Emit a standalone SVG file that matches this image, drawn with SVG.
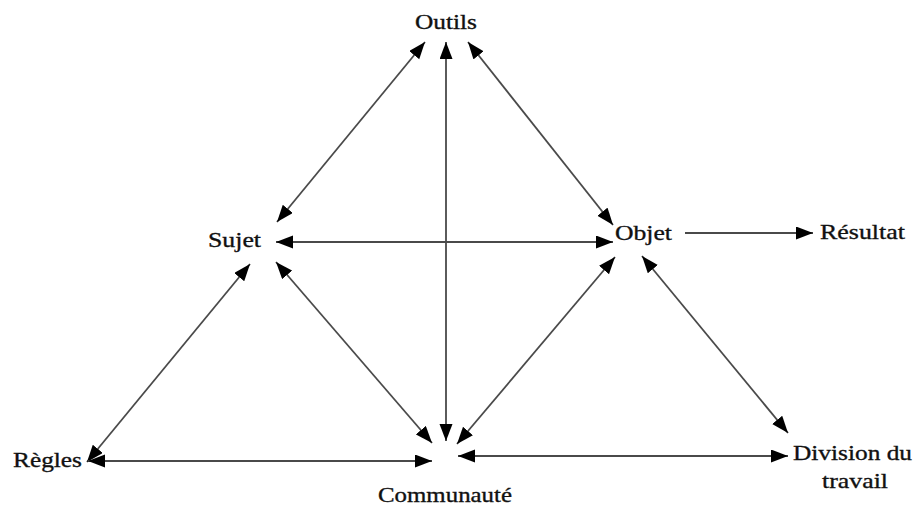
<svg xmlns="http://www.w3.org/2000/svg" width="918" height="508" viewBox="0 0 918 508">
<style>
text{font-family:"Liberation Serif","Times New Roman",serif;font-size:22px;fill:#111;stroke:#111;stroke-width:0.35}
.c line{stroke:#4a4a4a;stroke-width:1.8;fill:none}
.b{marker-start:url(#ah);marker-end:url(#ah)}
.e{marker-end:url(#ah)}
</style>
<defs>
<marker id="ah" markerUnits="userSpaceOnUse" markerWidth="18" markerHeight="14" refX="17" refY="6.5" orient="auto-start-reverse">
<path d="M0,0 L17,6.5 L0,13 z" fill="#000"/>
</marker>
</defs>
<rect width="918" height="508" fill="#fff"/>
<g id="connectors" class="c">
<line class="b" x1="425" y1="42" x2="277" y2="222"/>
<line class="b" x1="468" y1="42" x2="613" y2="225"/>
<line class="b" x1="446" y1="42" x2="446" y2="441"/>
<line class="b" x1="276" y1="242" x2="613" y2="242"/>
<line class="e" x1="685" y1="233" x2="813" y2="233"/>
<line class="b" x1="250" y1="264" x2="87" y2="462"/>
<line class="b" x1="276" y1="262" x2="432" y2="443"/>
<line class="b" x1="615" y1="257" x2="457" y2="444"/>
<line class="b" x1="642" y1="256" x2="788" y2="433"/>
<line class="b" x1="88" y1="461" x2="432" y2="461"/>
<line class="b" x1="458" y1="456" x2="788" y2="456"/>
</g>
<g id="outils"><text x="415" y="29" textLength="62" lengthAdjust="spacingAndGlyphs">Outils</text></g>
<g id="sujet"><text x="208" y="247" textLength="53" lengthAdjust="spacingAndGlyphs">Sujet</text></g>
<g id="objet"><text x="615" y="240" textLength="57" lengthAdjust="spacingAndGlyphs">Objet</text></g>
<g id="resultat"><text x="820" y="239" textLength="85" lengthAdjust="spacingAndGlyphs">Résultat</text></g>
<g id="regles"><text x="13" y="467" textLength="69" lengthAdjust="spacingAndGlyphs">Règles</text></g>
<g id="communaute"><text x="378" y="502" textLength="134" lengthAdjust="spacingAndGlyphs">Communauté</text></g>
<g id="division"><text x="793" y="460" textLength="119" lengthAdjust="spacingAndGlyphs">Division du</text><text x="822" y="488" textLength="66" lengthAdjust="spacingAndGlyphs">travail</text></g>
</svg>
